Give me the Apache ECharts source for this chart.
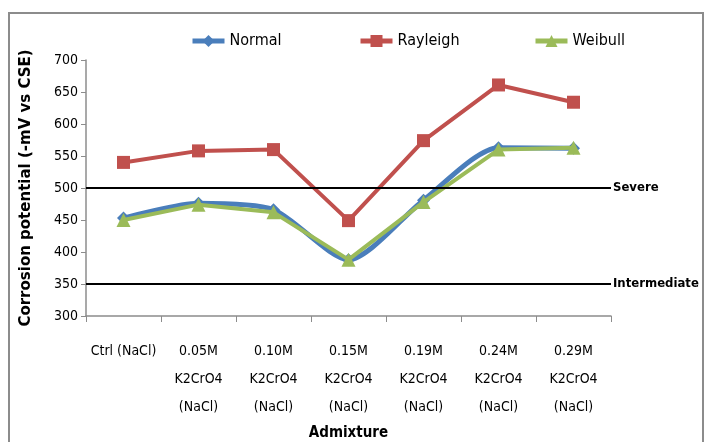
<!DOCTYPE html>
<html>
<head>
<meta charset="utf-8">
<script src="https://cdn.jsdelivr.net/npm/echarts@6/dist/echarts.min.js"></script>
<style>
  html, body { margin: 0; padding: 0; background: #fff; }
  #chart { width: 709px; height: 442px; }
</style>
</head>
<body>
<div id="chart"></div>
<script>
// values
const categories = [
  "Ctrl (NaCl)",
  "0.05M\nK2CrO4\n(NaCl)",
  "0.10M\nK2CrO4\n(NaCl)",
  "0.15M\nK2CrO4\n(NaCl)",
  "0.19M\nK2CrO4\n(NaCl)",
  "0.24M\nK2CrO4\n(NaCl)",
  "0.29M\nK2CrO4\n(NaCl)"
];
const normal = [453, 476, 466, 388, 481, 563, 562];
const rayleigh = [540, 558, 560, 449, 574, 661, 634];
const weibull = [450, 474, 462, 388, 478, 560, 563];
const thresholds = [
  { value: 500, name: "Severe" },
  { value: 350, name: "Intermediate" }
];

const font = "'Liberation Sans Narrow', 'DejaVu Sans Condensed', sans-serif";
const chart = echarts.init(document.getElementById("chart"), null, { renderer: "canvas" });

const legendBase = {
  top: 28,
  itemWidth: 32,
  itemHeight: 15,
  lineStyle: { width: 5 },
  textStyle: { fontFamily: font, fontSize: 16, color: "#000" }
};

const option = {
  animation: false,
  textStyle: { fontFamily: font },
  graphic: [{
    type: "rect",
    shape: { x: 9, y: 13, width: 694, height: 440 },
    style: { fill: null, stroke: "#8c8c8c", lineWidth: 2 },
    silent: true
  }],
  legend: [
    Object.assign({ data: ["Normal"], left: 185 }, legendBase),
    Object.assign({ data: ["Rayleigh"], left: 353 }, legendBase),
    Object.assign({ data: ["Weibull"], left: 528 }, legendBase)
  ],
  grid: { left: 86, right: 98, top: 60, bottom: 126, outerBoundsMode: "none" },
  xAxis: {
    type: "category",
    data: categories,
    boundaryGap: true,
    name: "Admixture",
    nameLocation: "middle",
    nameGap: 106,
    nameTextStyle: { fontFamily: font, fontSize: 15, fontWeight: "bold", color: "#000" },
    axisLine: { lineStyle: { color: "#8c8c8c", width: 1.5 } },
    axisTick: { show: true, length: 6, lineStyle: { color: "#8c8c8c" } },
    axisLabel: { interval: 0, margin: 21, fontSize: 14, lineHeight: 28, color: "#000", fontFamily: font }
  },
  yAxis: {
    type: "value",
    min: 300,
    max: 700,
    interval: 50,
    name: "Corrosion potential (-mV vs CSE)",
    nameLocation: "middle",
    nameGap: 52,
    nameTextStyle: { fontFamily: "'DejaVu Sans', sans-serif", fontSize: 15, fontWeight: "bold", color: "#000" },
    splitLine: { show: false },
    axisLine: { show: true, lineStyle: { color: "#8c8c8c", width: 1.5 } },
    axisTick: { show: true, length: 5, lineStyle: { color: "#8c8c8c" } },
    axisLabel: { margin: 8, fontSize: 14, color: "#000", fontFamily: font }
  },
  series: [
    {
      name: "Normal",
      type: "line",
      smooth: 0.25,
      data: normal,
      symbol: "diamond",
      symbolSize: 13,
      lineStyle: { color: "#4a7ebb", width: 5 },
      itemStyle: { color: "#4a7ebb" },
      z: 2
    },
    {
      name: "Rayleigh",
      type: "line",
      data: rayleigh,
      symbol: "rect",
      symbolSize: 13,
      lineStyle: { color: "#c0504d", width: 4 },
      itemStyle: { color: "#c0504d" },
      z: 3,
      markLine: {
        silent: true,
        symbol: "none",
        lineStyle: { color: "#000", width: 2, type: "solid" },
        label: {
          position: "end",
          distance: 2,
          formatter: (p) => p.name,
          fontFamily: font,
          fontSize: 13,
          fontWeight: "bold",
          color: "#000"
        },
        data: thresholds.map((t) => ({ yAxis: t.value, name: t.name }))
      }
    },
    {
      name: "Weibull",
      type: "line",
      data: weibull,
      symbol: "triangle",
      symbolSize: 14,
      lineStyle: { color: "#9bbb59", width: 4 },
      itemStyle: { color: "#9bbb59" },
      z: 4
    }
  ]
};

chart.setOption(option);
</script>
</body>
</html>
